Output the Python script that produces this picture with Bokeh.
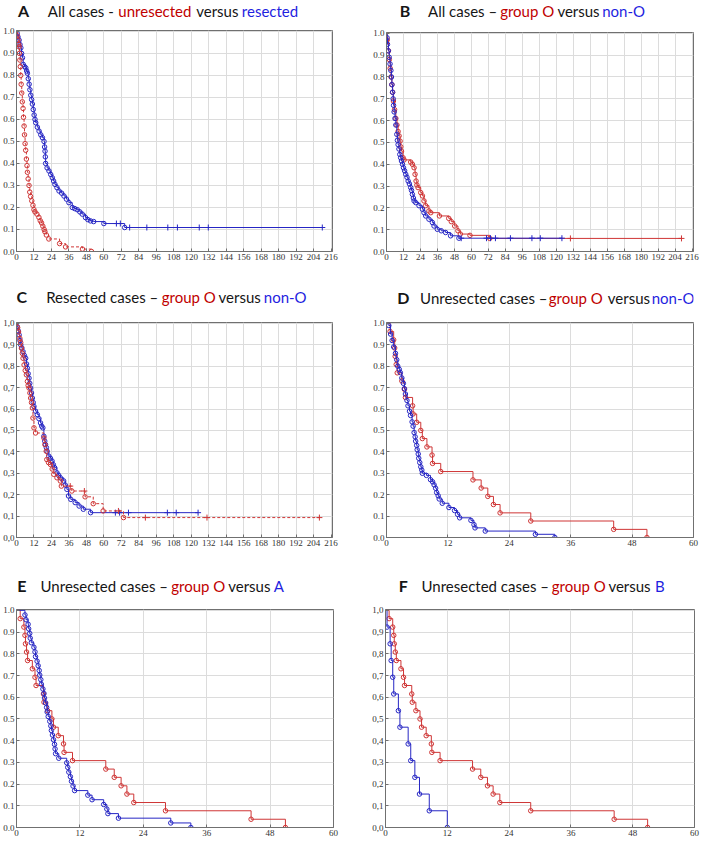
from bokeh.plotting import figure
from bokeh.layouts import column, row
from bokeh.models import FixedTicker, CustomJSTickFormatter, Range1d, Label
from bokeh.embed import file_html
from bokeh.resources import INLINE

# ---------------- data (months, survival) ----------------
x_ticks_long = [0, 12, 24, 36, 48, 60, 72, 84, 96, 108, 120, 132, 144, 156, 168, 180, 192, 204, 216]
x_ticks_short = [0, 12, 24, 36, 48, 60]
y_ticks = [0.0, 0.1, 0.2, 0.3, 0.4, 0.5, 0.6, 0.7, 0.8, 0.9, 1.0]

# A: all cases, unresected (red) vs resected (blue)
a_unres_t = [0.5, 1.0, 1.5, 1.8, 2.0, 2.3, 2.6, 2.9, 3.2, 3.6,
             4.0, 4.5, 4.8, 5.2, 5.5, 5.9, 6.3, 6.8, 7.2, 7.5,
             8.0, 8.6, 9.1, 9.7, 10.5, 11.3, 12.0, 12.7, 14.0, 15.4,
             16.3, 17.2, 18.1, 19.0, 19.5, 20.5, 22.2, 29.6, 33.7, 45.3, 51.5]
a_unres_s = [0.98, 0.96, 0.94, 0.93, 0.90, 0.87, 0.84, 0.80, 0.76, 0.72,
             0.68, 0.65, 0.61, 0.57, 0.53, 0.49, 0.46, 0.42, 0.39, 0.36,
             0.33, 0.30, 0.27, 0.25, 0.23, 0.21, 0.19, 0.18, 0.17, 0.155,
             0.14, 0.13, 0.115, 0.10, 0.09, 0.075, 0.057, 0.036, 0.021, 0.011, 0.0]
a_res_t = [0.5, 1.0, 1.8, 2.4, 3.0, 3.5, 4.1, 4.6, 5.5, 6.4,
           7.0, 7.5, 8.1, 8.7, 9.2, 9.8, 10.4, 10.9, 11.5, 12.1,
           12.7, 13.2, 14.3, 15.5, 16.7, 17.8, 18.9, 19.3, 19.6, 19.8, 20.0,
           21.0, 22.3, 23.5, 24.6, 25.5, 26.4, 27.8, 29.2, 31.0, 32.6,
           34.3, 36.0, 38.3, 40.0, 41.7, 43.5, 45.1, 47.4, 49.0, 50.8,
           53.0, 60.0, 74.3]
a_res_s = [0.99, 0.975, 0.96, 0.94, 0.925, 0.90, 0.88, 0.85, 0.84, 0.834,
           0.82, 0.81, 0.785, 0.76, 0.735, 0.71, 0.69, 0.67, 0.645, 0.62,
           0.60, 0.585, 0.565, 0.547, 0.53, 0.517, 0.50, 0.475, 0.456, 0.43, 0.40,
           0.38, 0.366, 0.35, 0.335, 0.32, 0.305, 0.29, 0.275, 0.265, 0.252,
           0.238, 0.222, 0.20, 0.195, 0.19, 0.18, 0.17, 0.154, 0.145, 0.139,
           0.136, 0.127, 0.109]
a_res_cens_t = [68.6, 71.3, 77.7, 89.5, 103.9, 110.5, 125.5, 131.7, 210.0]
a_res_cens_s = [0.127, 0.127, 0.109, 0.109, 0.109, 0.109, 0.109, 0.109, 0.109]

# B: all cases, group O (red) vs non-O (blue)
b_o_t = [0.5, 1.4, 2.0, 2.6, 3.2, 3.8, 4.3, 4.9, 5.7, 6.6,
         7.4, 8.2, 8.9, 9.6, 10.1, 10.6, 11.7, 12.4, 17.1, 18.3,
         19.5, 20.2, 20.9, 21.5, 22.3, 24.2, 25.4, 26.5, 27.7, 30.0,
         31.3, 37.4, 44.0, 45.8, 48.2, 50.5, 52.2, 59.0, 73.0]
b_o_s = [0.97, 0.92, 0.88, 0.84, 0.80, 0.765, 0.73, 0.69, 0.65, 0.61,
         0.58, 0.55, 0.53, 0.506, 0.48, 0.46, 0.43, 0.42, 0.41, 0.40,
         0.384, 0.354, 0.323, 0.305, 0.293, 0.27, 0.255, 0.232, 0.21, 0.186,
         0.178, 0.163, 0.152, 0.137, 0.117, 0.095, 0.08, 0.074, 0.06]
b_o_cens_t = [130.0, 208.5]
b_o_cens_s = [0.06, 0.06]
b_non_t = [0.4, 0.7, 1.3, 1.9, 2.5, 3.1, 3.5, 3.8, 4.3, 4.7,
           5.0, 5.4, 6.0, 6.6, 7.3, 7.7, 8.2, 8.8, 9.4, 10.0,
           10.6, 11.3, 12.0, 12.8, 13.6, 14.5, 15.3, 16.2, 17.1, 17.7,
           18.3, 19.0, 19.5, 20.7, 23.0, 25.4, 26.5, 27.7, 30.0, 32.4,
           33.6, 35.9, 38.7, 41.8, 45.3, 51.2]
b_non_s = [0.98, 0.95, 0.92, 0.89, 0.86, 0.83, 0.80, 0.765, 0.73, 0.70,
           0.67, 0.64, 0.61, 0.58, 0.537, 0.51, 0.49, 0.47, 0.445, 0.43,
           0.415, 0.40, 0.384, 0.37, 0.354, 0.34, 0.323, 0.31, 0.293, 0.28,
           0.262, 0.245, 0.232, 0.224, 0.21, 0.194, 0.178, 0.163, 0.148, 0.133,
           0.117, 0.102, 0.095, 0.087, 0.072, 0.061]
b_non_cens_t = [52.8, 70.7, 73.5, 77.0, 87.6, 102.8, 108.7, 124.0]
b_non_cens_s = [0.061, 0.061, 0.061, 0.061, 0.061, 0.061, 0.061, 0.061]

# C: resected cases, group O (red) vs non-O (blue)
c_o_t = [0.8, 1.4, 2.3, 2.9, 3.4, 4.0, 4.5, 5.2, 6.0, 6.8,
         7.5, 8.0, 8.6, 9.2, 9.7, 10.3, 10.9, 11.3, 12.0, 13.1,
         18.8, 19.5, 20.4, 20.8, 22.0, 23.3, 24.5, 25.6, 27.8, 30.1,
         30.8, 38.0, 47.1, 52.7, 59.5, 73.5]
c_o_s = [0.98, 0.96, 0.93, 0.91, 0.884, 0.86, 0.837, 0.806, 0.78, 0.76,
         0.729, 0.71, 0.698, 0.675, 0.651, 0.63, 0.605, 0.558, 0.512, 0.488,
         0.465, 0.434, 0.403, 0.364, 0.35, 0.341, 0.32, 0.295, 0.279, 0.264,
         0.24, 0.217, 0.19, 0.158, 0.124, 0.093]
c_o_cens_t = [36.9, 46.6, 70.0, 88.5, 130.8, 208.0]
c_o_cens_s = [0.24, 0.217, 0.124, 0.093, 0.093, 0.093]
c_non_t = [0.5, 1.2, 1.8, 2.4, 2.9, 3.7, 4.5, 5.4, 6.3, 6.9,
           7.5, 8.0, 8.6, 9.1, 9.7, 10.3, 10.9, 11.5, 12.0, 13.1,
           14.3, 15.4, 16.5, 17.3, 18.1, 18.8, 19.4, 19.9, 20.5, 21.0,
           22.2, 23.3, 24.4, 25.3, 26.2, 27.8, 29.0, 30.1, 32.4, 33.5,
           34.6, 35.7, 37.3, 40.3, 43.0, 45.9, 50.9]
c_non_s = [0.985, 0.965, 0.946, 0.92, 0.90, 0.885, 0.868, 0.85, 0.837, 0.81,
           0.79, 0.765, 0.744, 0.72, 0.698, 0.675, 0.651, 0.63, 0.612, 0.59,
           0.574, 0.555, 0.535, 0.52, 0.512, 0.473, 0.45, 0.434, 0.42, 0.403,
           0.38, 0.37, 0.357, 0.34, 0.326, 0.302, 0.29, 0.279, 0.264, 0.245,
           0.225, 0.194, 0.178, 0.163, 0.147, 0.132, 0.116]
c_non_cens_t = [67.9, 70.8, 76.9, 103.6, 109.7, 124.7]
c_non_cens_s = [0.116, 0.116, 0.116, 0.116, 0.116, 0.116]

# D/E/F: unresected cases
unres_o_t = [0.7, 1.4, 1.6, 1.7, 1.9, 2.1, 3.0, 3.5, 3.7, 5.1,
             5.2, 5.9, 6.7, 7.0, 7.9, 8.9, 9.0, 10.6, 16.9, 18.5,
             19.8, 20.9, 22.2, 28.2, 44.4, 50.9]
unres_o_s = [0.962, 0.923, 0.885, 0.846, 0.808, 0.769, 0.731, 0.692, 0.654, 0.615,
             0.577, 0.538, 0.500, 0.462, 0.423, 0.385, 0.346, 0.308, 0.269, 0.231,
             0.192, 0.154, 0.115, 0.077, 0.038, 0.0]
unres_non_t = [0.45, 0.8, 1.1, 1.4, 1.75, 2.0, 2.2, 2.5, 2.7, 3.0,
               3.3, 3.5, 3.7, 4.0, 4.2, 4.5, 4.7, 5.0, 5.2, 5.4,
               5.6, 5.7, 5.9, 6.0, 6.2, 6.3, 6.5, 6.7, 6.9, 7.0,
               7.8, 8.6, 9.0, 9.3, 9.6, 9.8, 10.1, 10.3, 10.9, 12.2,
               13.3, 13.9, 14.3, 16.5, 17.1, 17.3, 19.3, 29.1, 32.9]
unres_non_s = [0.99, 0.95, 0.92, 0.89, 0.86, 0.83, 0.80, 0.785, 0.77, 0.745,
               0.72, 0.695, 0.67, 0.64, 0.615, 0.59, 0.57, 0.54, 0.52, 0.49,
               0.47, 0.45, 0.43, 0.41, 0.39, 0.37, 0.35, 0.33, 0.315, 0.30,
               0.29, 0.27, 0.26, 0.246, 0.23, 0.21, 0.195, 0.18, 0.16, 0.14,
               0.126, 0.108, 0.092, 0.08, 0.06, 0.045, 0.03, 0.015, 0.0]
unres_a_t = [1.6, 1.8, 2.2, 2.3, 2.5, 2.6, 2.8, 3.3, 3.5, 3.6,
             3.9, 4.1, 4.3, 4.4, 4.6, 4.7, 5.0, 5.2, 5.3, 5.5,
             5.7, 5.8, 6.0, 6.3, 6.5, 6.6, 6.8, 7.0, 7.2, 7.3,
             7.4, 8.0, 9.5, 9.7, 9.9, 10.2, 10.4, 10.7, 11.0, 13.5,
             14.3, 16.5, 17.1, 17.3, 19.3, 29.2, 33.0]
unres_a_s = [0.979, 0.957, 0.936, 0.915, 0.894, 0.872, 0.851, 0.830, 0.809, 0.787,
             0.766, 0.745, 0.723, 0.702, 0.681, 0.660, 0.638, 0.617, 0.596, 0.574,
             0.553, 0.532, 0.511, 0.489, 0.468, 0.447, 0.426, 0.404, 0.383, 0.362,
             0.340, 0.319, 0.298, 0.277, 0.255, 0.234, 0.213, 0.191, 0.170, 0.149,
             0.128, 0.106, 0.085, 0.064, 0.043, 0.021, 0.0]
unres_b_t = [0.3, 0.9, 1.1, 1.4, 1.6, 2.5, 2.8, 4.4, 4.9, 5.7, 6.6, 8.5, 12.0]
unres_b_s = [0.923, 0.846, 0.769, 0.692, 0.615, 0.538, 0.462, 0.385, 0.308, 0.231, 0.154, 0.077, 0.0]

# ---------------- styling ----------------
RED = "#cf3535"
BLUE = "#2626c4"
T_RED = "#c00000"
T_BLUE = "#1f1fe0"
T_BLACK = "#161616"
TFONT = "Lato"


def title_fig(width, height, yc, pieces):
    # pieces: (centre x in px, text, colour, bold)
    f = figure(width=width, height=height, x_range=Range1d(0, width), y_range=Range1d(0, height),
               output_backend="svg", toolbar_location=None, min_border=0,
               x_axis_location=None, y_axis_location=None)
    f.grid.visible = False
    f.outline_line_color = None
    for x, txt, color, bold in pieces:
        f.add_layout(Label(x=x, y=height - yc, text=txt, text_color=color, text_font=TFONT,
                           text_font_size="16px" if bold else "15px",
                           text_font_style="bold" if bold else "normal",
                           text_baseline="middle", text_align="center"))
    return f


def km_fig(width, height, bl, br, bt, bb, xmax, xticks, comma):
    p = figure(width=width, height=height, x_range=Range1d(0, xmax), y_range=Range1d(0, 1.004),
               output_backend="svg", toolbar_location=None,
               min_border_left=bl, min_border_right=br, min_border_top=bt, min_border_bottom=bb)
    p.xaxis.ticker = FixedTicker(ticks=xticks)
    p.yaxis.ticker = FixedTicker(ticks=y_ticks)
    if comma:
        p.yaxis.formatter = CustomJSTickFormatter(code="return tick.toFixed(1).replace('.', ',');")
    else:
        p.yaxis.formatter = CustomJSTickFormatter(code="return tick.toFixed(1);")
    for ax in p.axis:
        ax.axis_line_color = "#707070"
        ax.major_tick_in = 3
        ax.major_tick_out = 0
        ax.major_tick_line_color = "#707070"
        ax.minor_tick_line_color = None
        ax.major_label_text_font = "Liberation Sans Narrow"
        ax.major_label_text_font_size = "9px"
        ax.major_label_text_color = "#333333"
        ax.major_label_standoff = 2
    p.grid.grid_line_color = "#dcdcdc"
    p.outline_line_color = "#707070"
    p.outline_line_width = 1
    return p


def km(p, t, s, color, dash="solid", cens_t=None, cens_s=None):
    xs = [0.0] + list(t)
    ys = [1.0] + list(s)
    if cens_t and max(cens_t) > xs[-1]:
        xs.append(max(cens_t))
        ys.append(ys[-1])
    p.step(xs, ys, mode="after", line_color=color, line_width=1, line_dash=dash)
    p.scatter(t, s, marker="circle", size=4.5, fill_color=None, line_color=color, line_width=1)
    if cens_t:
        p.scatter(cens_t, cens_s, marker="cross", size=6, line_color=color, line_width=1)


WL = 354
WR = 347

# Row 1
tA = title_fig(WL, 22, 10, [(8, "A", T_BLACK, True), (72, "All cases -", T_BLACK, False),
                            (155, "unresected", T_RED, False), (225, "versus", T_BLACK, False),
                            (284, "resected", T_BLUE, False)])
pA = km_fig(WL, 258, 14, 22, 8, 29, 217, x_ticks_long, False)
km(pA, a_res_t, a_res_s, BLUE, cens_t=a_res_cens_t, cens_s=a_res_cens_s)
km(pA, a_unres_t, a_unres_s, RED, dash="3 2")

tB = title_fig(WR, 22, 10, [(21, "B", T_BLACK, True), (86, "All cases \u2013", T_BLACK, False),
                            (159, "group O", T_RED, False), (217, "versus", T_BLACK, False),
                            (268, "non-O", T_BLUE, False)])
pB = km_fig(WR, 258, 32, 8, 10, 29, 217, x_ticks_long, False)
km(pB, b_o_t, b_o_s, RED, cens_t=b_o_cens_t, cens_s=b_o_cens_s)
km(pB, b_non_t, b_non_s, BLUE, cens_t=b_non_cens_t, cens_s=b_non_cens_s)

# Row 2
tC = title_fig(WL, 30, 16, [(6, "C", T_BLACK, True), (96, "Resected cases \u2013", T_BLACK, False),
                            (193, "group O", T_RED, False), (250, "versus", T_BLACK, False),
                            (301, "non-O", T_BLUE, False)])
pC = km_fig(WL, 250, 14, 22, 12, 23, 217, x_ticks_long, True)
km(pC, c_non_t, c_non_s, BLUE, cens_t=c_non_cens_t, cens_s=c_non_cens_s)
km(pC, c_o_t, c_o_s, RED, dash="3 2", cens_t=c_o_cens_t, cens_s=c_o_cens_s)

tD = title_fig(WR, 30, 17, [(19, "D", T_BLACK, True), (110, "Unresected cases \u2013", T_BLACK, False),
                            (214, "group O", T_RED, False), (274, "versus", T_BLACK, False),
                            (324, "non-O", T_BLUE, False)])
pD = km_fig(WR, 250, 32, 8, 12, 23, 60, x_ticks_short, False)
km(pD, unres_o_t, unres_o_s, RED)
km(pD, unres_non_t, unres_non_s, BLUE)

# Row 3
tE = title_fig(WL, 40, 25, [(6, "E", T_BLACK, True), (98, "Unresected cases \u2013", T_BLACK, False),
                            (203, "group O", T_RED, False), (260, "versus", T_BLACK, False),
                            (293, "A", T_BLUE, False)])
pE = km_fig(WL, 240, 15, 21, 9, 13, 60, x_ticks_short, False)
km(pE, unres_o_t, unres_o_s, RED)
km(pE, unres_a_t, unres_a_s, BLUE)

tF = title_fig(WR, 40, 25, [(20, "F", T_BLACK, True), (112, "Unresected cases \u2013", T_BLACK, False),
                            (217, "group O", T_RED, False), (274, "versus", T_BLACK, False),
                            (308, "B", T_BLUE, False)])
pF = km_fig(WR, 240, 31, 7, 9, 13, 60, x_ticks_short, True)
km(pF, unres_o_t, unres_o_s, RED)
km(pF, unres_b_t, unres_b_s, BLUE)

layout = column(
    row(column(tA, pA), column(tB, pB)),
    row(column(tC, pC), column(tD, pD)),
    row(column(tE, pE), column(tF, pF)),
)

open("out.html", "w").write(file_html(layout, INLINE))
